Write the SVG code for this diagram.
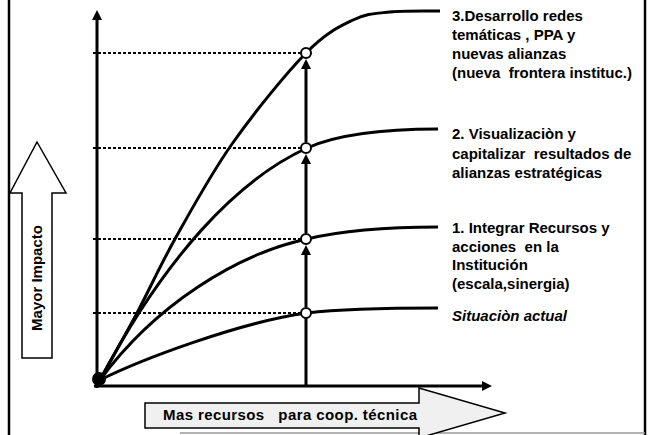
<svg xmlns="http://www.w3.org/2000/svg" width="651" height="435" viewBox="0 0 651 435">
<defs>
<style>
.t{font-family:"Liberation Sans",Arial,sans-serif;font-weight:bold;font-size:15px;fill:#000}
.ax{stroke:#000;stroke-width:3;fill:none}
.cv{stroke:#000;stroke-width:3;fill:none}
.dot{stroke:#000;stroke-width:2;stroke-dasharray:3,2;fill:none}
.pt{fill:#fff;stroke:#000;stroke-width:2}
.blk{fill:#fff;stroke:#000;stroke-width:1.5}
</style>
<marker id="ah" markerWidth="11" markerHeight="10" refX="1" refY="5" orient="auto" markerUnits="userSpaceOnUse">
<path d="M0,0 L10,5 L0,10 z" fill="#000"/>
</marker>
</defs>
<rect width="651" height="435" fill="#fff"/>
<g id="frame">
<line x1="9" y1="0" x2="9" y2="435" stroke="#000" stroke-width="2.5"/>
<line x1="645" y1="0" x2="645" y2="435" stroke="#000" stroke-width="2.5"/>
<line x1="180" y1="433" x2="645" y2="433" stroke="#999" stroke-width="1.5"/>
</g>
<g id="impact-arrow">
<polygon class="blk" points="37,142 66,193 52,193 52,358 22,358 22,193 10,193"/>
<text class="t" transform="translate(42,278) rotate(-90)" text-anchor="middle" font-size="14">Mayor Impacto</text>
</g>
<g id="resources-arrow">
<polygon points="145,403 419,403 419,388 505,413 419,438 419,428 145,428" fill="#f0f0f0" stroke="#000" stroke-width="1.5"/>
<text class="t" x="163" y="420" xml:space="preserve" textLength="254" lengthAdjust="spacing">Mas recursos   para coop. técnica</text>
</g>
<g id="connectors">
<line class="ax" x1="97" y1="388" x2="97" y2="19" marker-end="url(#ah)"/>
<line class="ax" x1="94" y1="386" x2="483" y2="386" marker-end="url(#ah)"/>
<line class="dot" x1="93" y1="53" x2="301" y2="53"/>
<line class="dot" x1="93" y1="148" x2="301" y2="148"/>
<line class="dot" x1="93" y1="239" x2="301" y2="239"/>
<line class="dot" x1="93" y1="313" x2="301" y2="313"/>
<line class="ax" x1="306" y1="386" x2="306" y2="318"/>
<line class="ax" x1="306" y1="307" x2="306" y2="254" marker-end="url(#ah)"/>
<line class="ax" x1="306" y1="233" x2="306" y2="163" marker-end="url(#ah)"/>
<line class="ax" x1="306" y1="142" x2="306" y2="68" marker-end="url(#ah)"/>
<path id="curve3" class="cv" d="M100,380 C106.2,368.8 124.5,336.5 137,313 C149.5,289.5 159.2,267.2 175,239 C190.8,210.8 210.2,175 232,144 C253.8,113 285.8,73.7 306,53 C326.2,32.3 339,26.8 353,20 C367,13.2 375.5,13.5 390,12 C404.5,10.5 431.7,11.2 440,11"/>
<path id="curve2" class="cv" d="M100,380 C165,257 237,180 307,148 C337,134.5 380,129 438,129"/>
<path id="curve1" class="cv" d="M100,380 C155,305 237,254 307,239 C340,231 390,227 438,227"/>
<path id="curve0" class="cv" d="M100,380 C140,360 240,322 307,313 C340,309 390,308 438,308"/>
</g>
<g id="points">
<circle cx="99" cy="379" r="7" fill="#000"/>
<circle class="pt" cx="306" cy="53" r="5"/>
<circle class="pt" cx="306" cy="148" r="5"/>
<circle class="pt" cx="306" cy="239" r="5"/>
<circle class="pt" cx="306" cy="313" r="5"/>
</g>
<g id="label3">
<text class="t" x="452" y="21">3.Desarrollo redes</text>
<text class="t" x="452" y="40">temáticas , PPA y</text>
<text class="t" x="452" y="59">nuevas alianzas</text>
<text class="t" x="452" y="78" xml:space="preserve">(nueva  frontera instituc.)</text>
</g>
<g id="label2">
<text class="t" x="452" y="139">2. Visualizaciòn y</text>
<text class="t" x="452" y="159" xml:space="preserve">capitalizar  resultados de</text>
<text class="t" x="452" y="178">alianzas estratégicas</text>
</g>
<g id="label1">
<text class="t" x="452" y="233">1. Integrar Recursos y</text>
<text class="t" x="452" y="252" xml:space="preserve">acciones  en la</text>
<text class="t" x="452" y="270">Institución</text>
<text class="t" x="452" y="289">(escala,sinergia)</text>
</g>
<g id="label0">
<text class="t" x="452" y="321" font-style="italic">Situaciòn actual</text>
</g>
</svg>
